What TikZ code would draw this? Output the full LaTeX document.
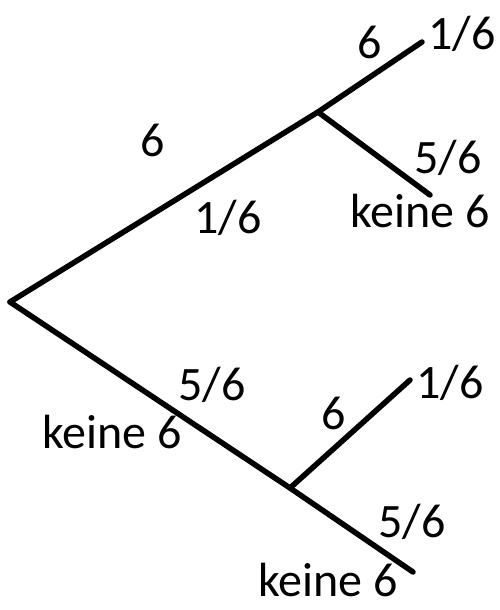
\documentclass[tikz,border=0pt]{standalone}
\usepackage{fontspec}
\setmainfont{Carlito}
\usetikzlibrary{calc}

\begin{document}
\begin{tikzpicture}[x=1pt,y=-1pt,line width=5.5pt,line cap=round]
\tikzset{lbl/.style={font=\fontsize{48}{54}\selectfont,inner sep=0pt}}
\useasboundingbox (0,0) rectangle (499,610);

% Verzweigungspunkte
\coordinate (root) at (10,302);
\coordinate (a) at (318,112);
\coordinate (aa) at (422,42);
\coordinate (ab) at (430,195);
\coordinate (b) at (290,488);
\coordinate (ba) at (410,380);
\coordinate (bb) at (413,572);

% Aeste
\draw (root) -- (a) -- (aa);
\draw (a) -- (ab);
\draw (root) -- (b) -- (bb);
\draw (b) -- (ba);

% erster Wurf
\node[lbl] (l6) at (153,140) {6};
\node[lbl] (p16) at (228,218) {1/6};
\node[lbl] (p56) at (212,385) {5/6};
\node[lbl] (lk) at (112,432) {keine 6};

% zweiter Wurf, oben
\node[lbl] (la6) at (370,42) {6};
\node[lbl] (pa16) at (462,34) {1/6};
\node[lbl] (pa56) at (448,158) {5/6};
\node[lbl] (lak) at (420,211) {keine 6};

% zweiter Wurf, unten
\node[lbl] (lb6) at (334,413) {6};
\node[lbl] (pb16) at (450,383) {1/6};
\node[lbl] (pb56) at (412,522) {5/6};
\node[lbl] (lbk) at (328,580) {keine 6};

\end{tikzpicture}
\end{document}
